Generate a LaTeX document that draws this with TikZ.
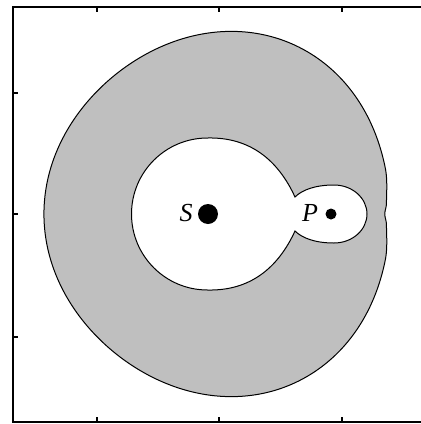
\documentclass[tikz,border=0pt]{standalone}
\usepackage{fontspec}
\setmainfont{Liberation Serif}
\begin{document}
\begin{tikzpicture}[x=1pt,y=-1pt,
  declare function={rr(\t)=177.33+6.52*cos(\t)-4.42*cos(2*\t)-4.17*cos(3*\t)
     -3.5*(max(0,1-(sin(\t/2)/0.1305)^2))^2
     -1.5*(max(0,1-(sin(\t/2)/0.02618)^2))^2;},
  curve/.style={draw=black, line width=1pt},
  frameline/.style={draw=black, line width=2pt},
  tick/.style={draw=black, line width=1.2pt},
  lbl/.style={font=\fontsize{26}{30}\selectfont\itshape, inner sep=0pt}]
\useasboundingbox (0,0) rectangle (421,424);
% outer boundary of forbidden region
\filldraw[curve, fill=black!25] plot[domain=0:360, samples=361, smooth]
  ({214.5+rr(\x)*cos(\x)}, {214-rr(\x)*sin(\x)}) -- cycle;
% inner allowed region
\filldraw[curve, fill=white]
  (295,231) .. controls (278,268) and (250,291) .. (207.5,290)
  arc[start angle=90, end angle=270, radius=76]
  .. controls (250,137) and (278,160) .. (295,197)
  .. controls (302,190) and (315,185) .. (334,185)
  arc[start angle=270, end angle=450, x radius=33, y radius=29]
  .. controls (315,243) and (302,238) .. cycle;
% bodies
\fill (208,214) circle[radius=10];
\fill (331,214) circle[radius=5.5];
\node[lbl] (S) at (186,213) {S};
\node[lbl] (P) at (310,213) {P};
% frame
\draw[frameline] (430,7) -- (13,7) -- (13,422) -- (430,422);
\foreach \x in {97,219,342} {
  \draw[tick] (\x,7) -- (\x,12);
  \draw[tick] (\x,422) -- (\x,417);
}
\foreach \y in {93,214,337} {
  \draw[tick] (13,\y) -- (18,\y);
}
\end{tikzpicture}
\end{document}
